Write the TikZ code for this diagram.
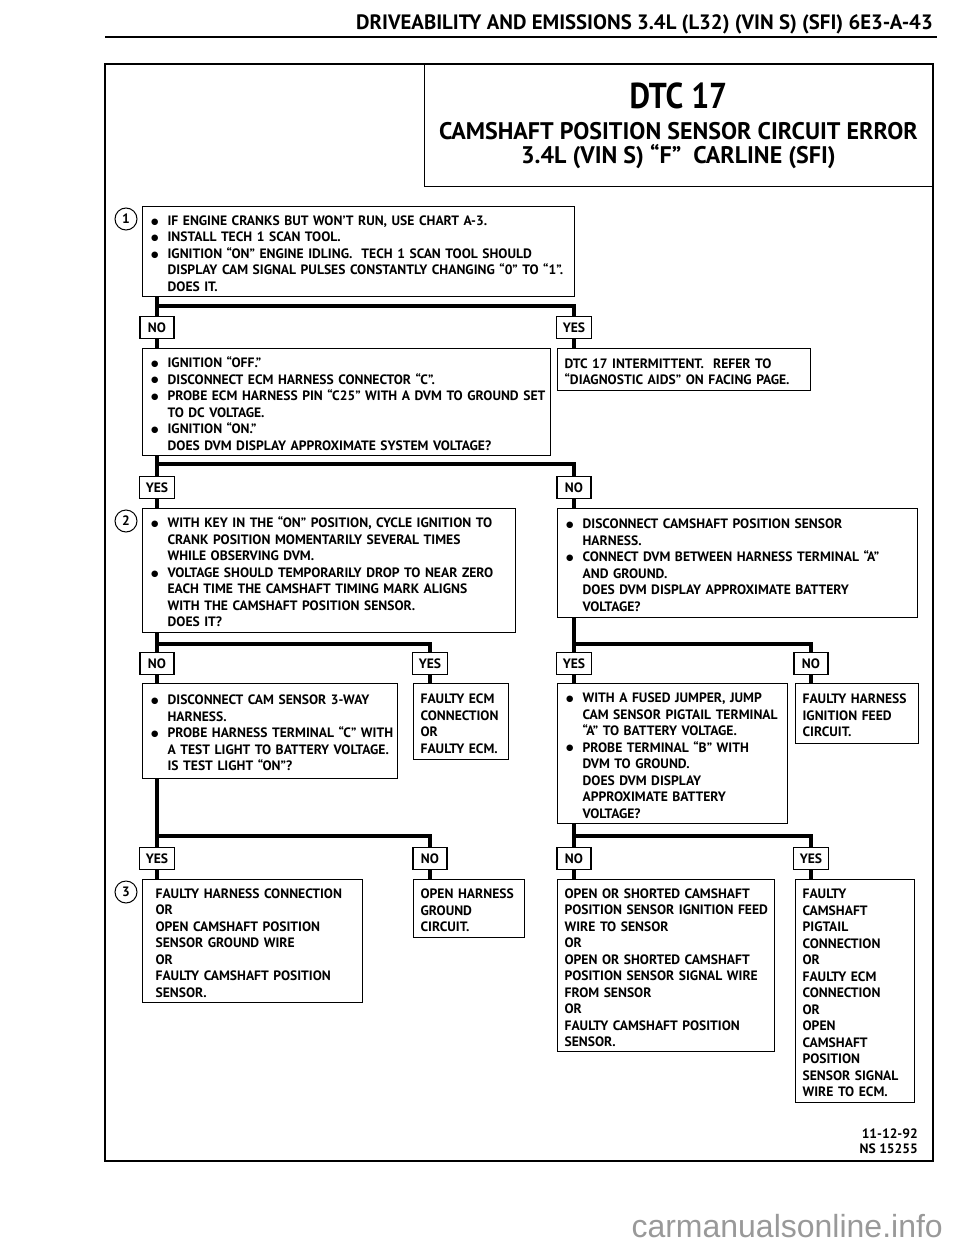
\documentclass[tikz,border=0pt]{standalone}
\usepackage{fontspec}
\setmainfont{PT Sans}
\newfontfamily\condfont{PT Sans}[FakeStretch=0.88]
\newfontfamily\wmfont{Liberation Sans}
\newfontfamily\symfont{DejaVu Sans}
\usepackage{tikz}

\newcommand{\boxfont}{\bfseries\fontsize{13.6}{16.5}\selectfont}
\newcommand{\bxt}[1][18pt]{\leftskip=#1\rightskip=0pt plus 1fil minus 30pt\relax\leavevmode\rule{0pt}{13.5pt}}
\newcommand{\bl}{\leavevmode\llap{\raisebox{1.2pt}{\symfont\fontsize{8.5}{8.5}\selectfont ●}\hskip9pt}}

\begin{document}
\begin{tikzpicture}[x=1pt, y=-1pt,
  box/.style={draw, line width=1.2pt, fill=white, anchor=north west,
    align=left, inner xsep=7pt, inner ysep=5pt, font=\boxfont},
  lbl/.style={draw, line width=1.2pt, fill=white, anchor=north,
    minimum width=34pt, minimum height=22pt, inner xsep=6pt, inner ysep=0pt, font=\boxfont},
  num/.style={draw, circle, line width=1pt, minimum size=22pt, inner sep=0pt, font=\boxfont},
  wire/.style={line width=3.5pt}
]
\useasboundingbox (0,0) rectangle (960,1250);

% Page header and frame
\node[anchor=base east, inner sep=0pt, font=\bfseries\fontsize{20.8}{21}\selectfont] (head) at (933,29)
  {DRIVEABILITY AND EMISSIONS 3.4L (L32) (VIN S) (SFI) 6E3-A-43};
\draw[line width=2pt] (105,37) -- (937,37);
\draw[line width=1.8pt] (105,64) rectangle (933,1161);
\node[draw, line width=1.2pt, anchor=north east, minimum width=508pt, minimum height=122pt,
  inner sep=0pt, align=center, font=\bfseries\fontsize{24}{24}\selectfont] (title) at (933,64)
  {{\condfont\fontsize{36}{36}\selectfont DTC 17}\\[7pt]
   CAMSHAFT POSITION SENSOR CIRCUIT ERROR\\
   3.4L (VIN S) “F”\ \ CARLINE (SFI)};

% Step 1
\node[num] (n1) at (126,219) {1};
\node[box, text width=418pt, minimum height=90pt] (chk1) at (142,206)
  {\bxt\bl IF ENGINE CRANKS BUT WON’T RUN, USE CHART A-3.\\
   \bl INSTALL TECH 1 SCAN TOOL.\\
   \bl IGNITION “ON” ENGINE IDLING.\ \ TECH 1 SCAN TOOL SHOULD\\
   DISPLAY CAM SIGNAL PULSES CONSTANTLY CHANGING “0” TO “1”.\\
   DOES IT.\par};
\node[lbl] (no1) at (157,316) {NO};
\node[lbl] (yes1) at (574,316) {YES};
\node[box, text width=394pt, minimum height=107pt] (chk2) at (142,348)
  {\bxt\bl IGNITION “OFF.”\\
   \bl DISCONNECT ECM HARNESS CONNECTOR “C”.\\
   \bl PROBE ECM HARNESS PIN “C25” WITH A DVM TO GROUND SET\\
   TO DC VOLTAGE.\\
   \bl IGNITION “ON.”\\
   DOES DVM DISPLAY APPROXIMATE SYSTEM VOLTAGE?\par};
\node[box, text width=239pt, minimum height=42pt] (intm) at (557,348)
  {\bxt[0pt]DTC 17 INTERMITTENT.\ \ REFER TO\\
   “DIAGNOSTIC AIDS” ON FACING PAGE.\par};

% Step 2
\node[lbl] (yes2) at (157,476) {YES};
\node[lbl] (no2) at (574,476) {NO};
\node[num] (n2) at (126,521) {2};
\node[box, text width=359pt, minimum height=124pt] (chk3) at (142,508)
  {\bxt\bl WITH KEY IN THE “ON” POSITION, CYCLE IGNITION TO\\
   CRANK POSITION MOMENTARILY SEVERAL TIMES\\
   WHILE OBSERVING DVM.\\
   \bl VOLTAGE SHOULD TEMPORARILY DROP TO NEAR ZERO\\
   EACH TIME THE CAMSHAFT TIMING MARK ALIGNS\\
   WITH THE CAMSHAFT POSITION SENSOR.\\
   DOES IT?\par};
\node[box, text width=346pt, minimum height=109pt] (chk4) at (557,508)
  {\bxt\bl DISCONNECT CAMSHAFT POSITION SENSOR\\
   HARNESS.\\
   \bl CONNECT DVM BETWEEN HARNESS TERMINAL “A”\\
   AND GROUND.\\
   DOES DVM DISPLAY APPROXIMATE BATTERY\\
   VOLTAGE?\par};

% Row 3
\node[lbl] (no3) at (157,652) {NO};
\node[lbl] (yes3) at (430,652) {YES};
\node[lbl] (yes4) at (574,652) {YES};
\node[lbl] (no4) at (811,652) {NO};
\node[box, text width=241pt, minimum height=95pt] (chk5) at (142,683)
  {\bxt\bl DISCONNECT CAM SENSOR 3-WAY\\
   HARNESS.\\
   \bl PROBE HARNESS TERMINAL “C” WITH\\
   A TEST LIGHT TO BATTERY VOLTAGE.\\
   IS TEST LIGHT “ON”?\par};
\node[box, text width=81pt, minimum height=76pt] (ecm) at (413,683)
  {\bxt[0pt]FAULTY ECM\\ CONNECTION\\ OR\\ FAULTY ECM.\par};
\node[box, text width=216pt, minimum height=140pt] (chk7) at (557,683)
  {\bxt\bl WITH A FUSED JUMPER, JUMP\\
   CAM SENSOR PIGTAIL TERMINAL\\
   “A” TO BATTERY VOLTAGE.\\
   \bl PROBE TERMINAL “B” WITH\\
   DVM TO GROUND.\\
   DOES DVM DISPLAY\\
   APPROXIMATE BATTERY\\
   VOLTAGE?\par};
\node[box, text width=109pt, minimum height=60pt] (feed) at (795,683)
  {\bxt[0pt]FAULTY HARNESS\\ IGNITION FEED\\ CIRCUIT.\par};

% Row 4: results
\node[lbl] (yes5) at (157,847) {YES};
\node[lbl] (no5) at (430,847) {NO};
\node[lbl] (no6) at (574,847) {NO};
\node[lbl] (yes6) at (811,847) {YES};
\node[num] (n3) at (126,892) {3};
\node[box, text width=206pt, minimum height=123pt] (res3) at (142,879)
  {\bxt[6pt]FAULTY HARNESS CONNECTION\\ OR\\ OPEN CAMSHAFT POSITION\\
   SENSOR GROUND WIRE\\ OR\\ FAULTY CAMSHAFT POSITION\\ SENSOR.\par};
\node[box, text width=97pt, minimum height=58pt] (gnd) at (413,879)
  {\bxt[0pt]OPEN HARNESS\\ GROUND\\ CIRCUIT.\par};
\node[box, text width=203pt, minimum height=172pt] (sens) at (557,879)
  {\bxt[0pt]OPEN OR SHORTED CAMSHAFT\\ POSITION SENSOR IGNITION FEED\\
   WIRE TO SENSOR\\ OR\\ OPEN OR SHORTED CAMSHAFT\\ POSITION SENSOR SIGNAL WIRE\\
   FROM SENSOR\\ OR\\ FAULTY CAMSHAFT POSITION\\ SENSOR.\par};
\node[box, text width=105pt, minimum height=223pt] (pig) at (795,879)
  {\bxt[0pt]FAULTY\\ CAMSHAFT\\ PIGTAIL\\ CONNECTION\\ OR\\ FAULTY ECM\\
   CONNECTION\\ OR\\ OPEN\\ CAMSHAFT\\ POSITION\\ SENSOR SIGNAL\\ WIRE TO ECM.\par};

% Footer
\node[anchor=north east, align=right, inner sep=0pt, font=\bfseries\fontsize{13.6}{15}\selectfont] (code) at (918,1129)
  {11-12-92\\ NS 15255};
\node[anchor=base east, inner sep=0pt, text=black!40, font=\wmfont\fontsize{32}{32}\selectfont] (wm) at (943,1237)
  {carmanualsonline.info};

% Connectors
\draw[wire] (chk1.south -| no1) -- ++(0,9) -| (yes1.north);
\draw[wire] (chk1.south -| no1) -- (no1.north);
\draw[wire] (no1.south) -- (no1.south |- chk2.north);
\draw[wire] (yes1.south) -- (yes1.south |- intm.north);

\draw[wire] (chk2.south -| yes2) -- ++(0,8) -| (no2.north);
\draw[wire] (chk2.south -| yes2) -- (yes2.north);
\draw[wire] (yes2.south) -- (yes2.south |- chk3.north);
\draw[wire] (no2.south) -- (no2.south |- chk4.north);

\draw[wire] (chk3.south -| no3) -- ++(0,11) -| (yes3.north);
\draw[wire] (chk3.south -| no3) -- (no3.north);
\draw[wire] (no3.south) -- (no3.south |- chk5.north);
\draw[wire] (yes3.south) -- (yes3.south |- ecm.north);

\draw[wire] (chk4.south -| yes4) -- ++(0,26) -| (no4.north);
\draw[wire] (chk4.south -| yes4) -- (yes4.north);
\draw[wire] (yes4.south) -- (yes4.south |- chk7.north);
\draw[wire] (no4.south) -- (no4.south |- feed.north);

\draw[wire] (chk5.south -| yes5) -- ++(0,57) -| (no5.north);
\draw[wire] (chk5.south -| yes5) -- (yes5.north);
\draw[wire] (yes5.south) -- (yes5.south |- res3.north);
\draw[wire] (no5.south) -- (no5.south |- gnd.north);

\draw[wire] (chk7.south -| no6) -- ++(0,12) -| (yes6.north);
\draw[wire] (chk7.south -| no6) -- (no6.north);
\draw[wire] (no6.south) -- (no6.south |- sens.north);
\draw[wire] (yes6.south) -- (yes6.south |- pig.north);
\end{tikzpicture}
\end{document}
